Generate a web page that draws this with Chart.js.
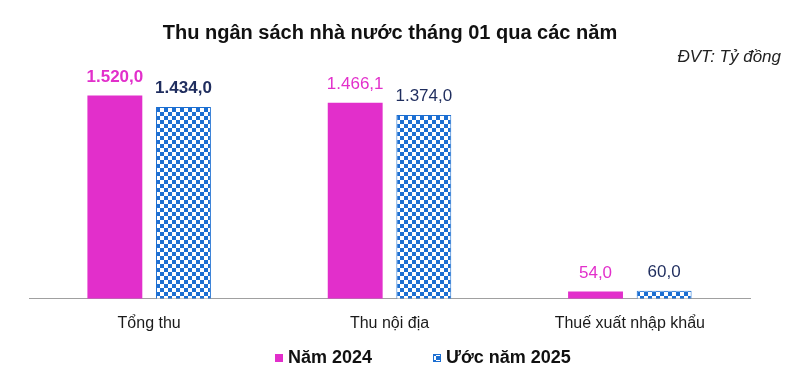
<!DOCTYPE html>
<html>
<head>
<meta charset="utf-8">
<script src="https://cdn.jsdelivr.net/npm/chart.js@4/dist/chart.umd.min.js"></script>
<style>
  html, body { margin: 0; padding: 0; background: #fff; }
  #wrap { width: 799px; height: 392px; }
</style>
</head>
<body>
<div id="wrap"><canvas id="budgetChart"></canvas></div>
<script>
const categories = ['Tổng thu', 'Thu nội địa', 'Thuế xuất nhập khẩu'];
const seriesNames = ['Năm 2024', 'Ước năm 2025'];
const values2024 = [1520.0, 1466.1, 54.0];
const values2025 = [1434.0, 1374.0, 60.0];

const PINK = '#E22FCB';
const BLUE = '#1C6FD2';
const FONT = '"Liberation Sans", Arial, sans-serif';

// checkerboard fill for the 2025 estimate
function checkerPattern() {
    const c = document.createElement('canvas');
    c.width = 8; c.height = 8;
    const g = c.getContext('2d');
    g.fillStyle = '#fff';
    g.fillRect(0, 0, 8, 8);
    g.fillStyle = BLUE;
    g.fillRect(0, 0, 4, 4);
    g.fillRect(4, 4, 4, 4);
    return g.createPattern(c, 'repeat');
}

const fmt = v => {
    const [i, d] = v.toFixed(1).split('.');
    return i.replace(/\B(?=(\d{3})+(?!\d))/g, '.') + ',' + d;
};

const legendX = [275, 433];

const extras = {
    id: 'extras',
    afterDatasetsDraw(chart) {
        const ctx = chart.ctx;
        ctx.save();
        // title + unit
        ctx.fillStyle = '#111';
        ctx.textAlign = 'center';
        ctx.textBaseline = 'middle';
        ctx.font = 'bold 20px ' + FONT;
        ctx.fillText('Thu ngân sách nhà nước tháng 01 qua các năm', 390, 33);
        ctx.font = 'italic 17px ' + FONT;
        ctx.textAlign = 'right';
        ctx.fillStyle = '#222';
        ctx.fillText('ĐVT: Tỷ đồng', 781, 57);

        // value labels
        ctx.textAlign = 'center';
        ctx.textBaseline = 'bottom';
        chart.data.datasets.forEach((ds, di) => {
            chart.getDatasetMeta(di).data.forEach((bar, i) => {
                ctx.fillStyle = di === 0 ? PINK : '#1F2D5E';
                ctx.font = (i === 0 ? 'bold ' : '') + '17px ' + FONT;
                ctx.fillText(fmt(ds.data[i]), bar.x, bar.y - 10);
            });
        });

        // legend
        ctx.textAlign = 'left';
        ctx.textBaseline = 'middle';
        ctx.font = 'bold 18px ' + FONT;
        chart.data.datasets.forEach((ds, di) => {
            const x = legendX[di];
            ctx.fillStyle = ds.backgroundColor;
            ctx.fillRect(x, 354, 8, 8);
            if (ds.borderWidth) {
                ctx.strokeStyle = ds.borderColor;
                ctx.lineWidth = 1;
                ctx.strokeRect(x + 0.5, 354.5, 7, 7);
            }
            ctx.fillStyle = '#111';
            ctx.fillText(ds.label, x + 13, 358);
        });
        ctx.restore();
    }
};

const chart = new Chart(document.getElementById('budgetChart'), {
    type: 'bar',
    data: {
        labels: categories,
        datasets: [{
            label: seriesNames[0],
            data: values2024,
            backgroundColor: PINK,
            borderWidth: 0,
            categoryPercentage: 0.571,
            barPercentage: 0.8
        }, {
            label: seriesNames[1],
            data: values2025,
            backgroundColor: checkerPattern(),
            borderColor: BLUE,
            borderWidth: 1,
            categoryPercentage: 0.571,
            barPercentage: 0.8
        }]
    },
    options: {
        responsive: true,
        maintainAspectRatio: false,
        animation: false,
        layout: {
            padding: { top: 58, left: 29, right: 49, bottom: 52 }
        },
        plugins: {
            tooltip: { enabled: false },
            legend: { display: false }
        },
        scales: {
            x: {
                grid: { display: false },
                border: { color: '#A0A0A0', width: 1 },
                ticks: {
                    color: '#1a1a1a',
                    padding: 7,
                    font: { family: FONT, size: 16 }
                }
            },
            y: {
                display: false,
                min: 0,
                max: 1800
            }
        }
    },
    plugins: [extras]
});
</script>
</body>
</html>
